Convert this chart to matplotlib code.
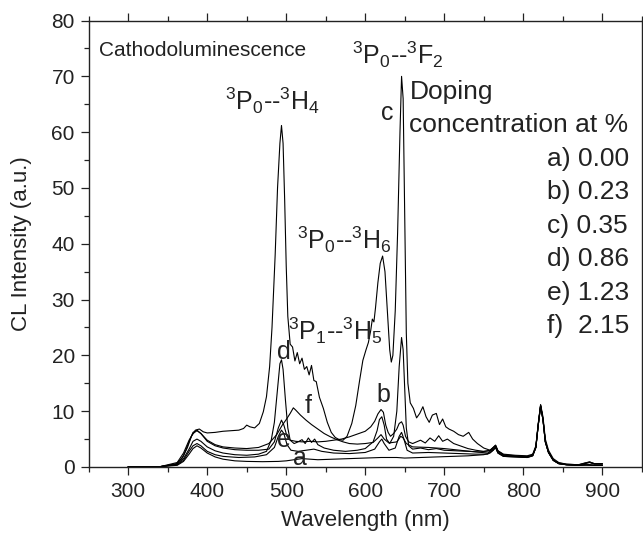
import matplotlib
matplotlib.use("Agg")
import matplotlib.pyplot as plt
from matplotlib.ticker import MultipleLocator

plt.rcParams['font.family'] = ['Liberation Sans', 'DejaVu Sans']
plt.rcParams['mathtext.fontset'] = 'custom'
plt.rcParams['mathtext.rm'] = 'Liberation Sans'
plt.rcParams['mathtext.it'] = 'Liberation Sans:italic'
plt.rcParams['mathtext.bf'] = 'Liberation Sans:bold'

# ---- data (wavelength nm, CL intensity a.u.) ----
wl_a = [300, 340, 362, 370, 377, 382, 387, 392, 400, 410, 420, 435, 450, 470, 490, 500, 510, 520, 530, 540,
        560, 580, 600, 620, 640, 650, 670, 690, 710, 730, 750, 758, 762, 765, 768, 775, 790, 805, 812, 816,
        819, 822, 825, 828, 832, 838, 845, 855, 870, 880, 890, 900]
int_a = [0, 0.05, 0.3, 1.0, 2.3, 3.3, 3.8, 3.4, 2.5, 1.8, 1.4, 1.1, 1.0, 0.95, 1.0, 1.1, 1.3, 1.5, 1.4, 1.3,
         1.4, 1.5, 1.6, 1.7, 1.7, 1.6, 1.7, 1.8, 1.9, 2.0, 2.2, 2.5, 3.0, 3.5, 2.5, 1.9, 1.8, 1.7, 2.0, 3.5,
         7.5, 11.0, 8.5, 4.5, 2.6, 1.2, 0.6, 0.4, 0.3, 0.3, 0.3, 0.3]

wl_b = [300, 340, 362, 370, 377, 382, 387, 392, 400, 410, 420, 435, 450, 465, 478, 485, 490, 494, 497, 501,
        505, 512, 520, 530, 540, 550, 560, 570, 580, 590, 600, 607, 612, 616, 620, 623, 626, 629, 632, 636,
        640, 643, 646, 648, 651, 655, 660, 670, 676, 682, 688, 693, 698, 704, 712, 720, 730, 740, 750, 758,
        762, 765, 768, 775, 790, 805, 812, 816, 819, 822, 825, 828, 832, 838, 845, 855, 870, 878, 884, 890, 900]
int_b = [0, 0.05, 0.6, 2.0, 4.5, 6.2, 6.6, 6.0, 4.6, 3.8, 3.4, 3.1, 3.0, 3.0, 3.2, 4.5, 7.0, 8.4, 7.5, 5.5,
         4.8, 4.6, 4.5, 4.6, 4.5, 4.6, 4.8, 5.0, 5.4, 5.9, 6.4, 7.2, 8.2, 9.5, 10.3, 9.8, 7.5, 6.2, 5.5, 6.0,
         6.8, 7.8, 8.1, 7.5, 5.5, 4.5, 4.2, 4.8, 4.3, 5.2, 4.6, 5.6, 4.6, 5.0, 4.2, 3.8, 3.3, 3.0, 2.8, 3.0,
         3.5, 3.9, 2.9, 2.2, 2.0, 1.9, 2.1, 3.6, 7.6, 11.0, 8.6, 4.6, 2.7, 1.3, 0.7, 0.5, 0.4, 0.7, 0.9, 0.6, 0.6]

wl_c = [300, 340, 360, 368, 375, 380, 385, 390, 395, 400, 410, 420, 430, 440, 446, 450, 454, 460, 466, 471,
        475, 479, 482, 486, 489, 492, 494, 496, 498, 500, 502, 505, 508, 511, 514, 517, 520, 523, 526, 529,
        532, 535, 538, 542, 547, 552, 557, 562, 567, 572, 577, 583, 588, 593, 597, 601, 604, 607, 609, 611,
        613, 616, 619, 622, 625, 628, 631, 633, 635, 638, 641, 644, 646, 648, 650, 652, 654, 657, 661, 665,
        669, 673, 677, 681, 685, 690, 694, 698, 702, 706, 712, 718, 724, 731, 736, 742, 750, 758, 762, 765,
        768, 775, 790, 805, 812, 816, 819, 822, 825, 828, 832, 838, 845, 855, 870, 878, 884, 890, 900]
int_c = [0, 0.05, 0.5, 1.5, 3.5, 5.5, 6.6, 6.8, 6.3, 6.1, 6.2, 6.4, 6.5, 6.6, 6.9, 7.5, 7.2, 7.0, 7.8, 9.9,
         12.6, 18.0, 25.0, 38.0, 50.0, 58.0, 61.2, 58.0, 48.0, 36.0, 27.0, 22.0, 21.5, 19.0, 20.5, 18.5, 19.5, 17.5, 18.0, 16.5,
         18.2, 15.5, 15.3, 12.5, 10.5, 8.0, 6.2, 5.3, 4.9, 4.8, 5.5, 7.8, 11.0, 15.6, 19.1, 21.0, 22.3, 24.5, 26.5, 26.0,
         28.5, 33.0, 36.5, 37.8, 35.0, 28.0, 21.0, 18.8, 20.0, 28.0, 42.0, 60.0, 70.0, 66.0, 45.0, 24.0, 15.0, 11.5, 10.5, 8.8,
         9.6, 10.8, 9.0, 8.0, 9.3, 9.6, 7.6, 8.6, 7.2, 6.8, 6.4, 5.8, 5.5, 6.2, 5.0, 4.2, 3.4, 3.0, 3.5, 3.9,
         2.9, 2.3, 2.1, 2.0, 2.3, 3.8, 7.8, 11.2, 9.0, 5.0, 3.0, 1.5, 0.8, 0.5, 0.4, 0.7, 0.9, 0.6, 0.6]

wl_d = [300, 340, 362, 370, 377, 382, 387, 392, 400, 410, 420, 435, 450, 465, 475, 481, 485, 489, 492, 494,
        496, 499, 502, 505, 510, 515, 520, 524, 528, 532, 536, 540, 548, 560, 575, 590, 600, 610, 615, 618,
        621, 624, 627, 631, 636, 640, 643, 646, 648, 650, 652, 655, 660, 670, 680, 690, 700, 715, 730, 745,
        758, 762, 765, 768, 775, 790, 805, 812, 816, 819, 822, 825, 828, 832, 838, 845, 855, 870, 878, 884, 890, 900]
int_d = [0, 0.05, 0.5, 1.5, 3.2, 4.6, 5.0, 4.6, 3.6, 2.9, 2.5, 2.2, 2.1, 2.3, 2.8, 4.8, 8.0, 14.0, 18.5, 19.2,
         17.5, 12.0, 7.0, 4.8, 4.2, 4.5, 4.9, 4.2, 5.2, 4.4, 5.0, 4.0, 3.4, 3.0, 2.8, 3.0, 3.3, 4.5, 6.5, 8.5,
         9.0, 7.5, 5.0, 4.2, 5.5, 10.0, 18.0, 23.2, 21.0, 14.0, 7.0, 3.8, 3.2, 3.4, 3.1, 3.3, 3.0, 2.9, 2.8, 2.7,
         2.9, 3.4, 3.8, 2.8, 2.1, 1.9, 1.8, 2.1, 3.5, 7.5, 10.8, 8.5, 4.5, 2.6, 1.2, 0.6, 0.4, 0.3, 0.6, 0.8, 0.5, 0.5]

wl_e = [300, 340, 362, 370, 377, 382, 387, 392, 400, 410, 420, 440, 460, 475, 485, 490, 494, 497, 501, 506,
        515, 525, 535, 545, 560, 580, 600, 612, 618, 621, 624, 630, 638, 643, 646, 649, 653, 660, 680, 700,
        720, 740, 755, 762, 765, 768, 775, 790, 805, 812, 816, 819, 822, 825, 828, 832, 838, 845, 855, 870, 880, 890, 900]
int_e = [0, 0.05, 0.4, 1.2, 2.8, 3.8, 4.2, 3.8, 2.8, 2.2, 1.9, 1.7, 1.8, 2.2, 3.5, 5.5, 6.6, 6.0, 4.0, 3.0,
         2.8, 3.0, 3.2, 2.8, 2.5, 2.4, 2.6, 3.2, 4.5, 5.0, 4.2, 3.0, 3.4, 5.5, 6.2, 5.0, 3.0, 2.5, 2.6, 2.5,
         2.4, 2.3, 2.3, 3.0, 3.5, 2.5, 1.9, 1.8, 1.7, 2.0, 3.5, 7.5, 11.0, 8.5, 4.5, 2.6, 1.2, 0.6, 0.4, 0.3, 0.4, 0.3, 0.3]

wl_f = [300, 340, 362, 370, 377, 382, 387, 392, 400, 410, 420, 435, 450, 465, 478, 488, 495, 500, 505, 509,
        512, 518, 525, 532, 540, 548, 556, 564, 572, 580, 590, 600, 610, 616, 620, 624, 630, 640, 645, 648,
        652, 660, 680, 700, 720, 740, 755, 762, 765, 768, 775, 790, 805, 812, 816, 819, 822, 825, 828, 832,
        838, 845, 855, 870, 880, 890, 900]
int_f = [0, 0.05, 0.8, 2.5, 4.8, 6.0, 6.5, 6.0, 4.8, 4.0, 3.6, 3.4, 3.3, 3.5, 4.2, 5.8, 7.5, 8.5, 9.6, 10.6,
         10.2, 9.3, 8.4, 7.6, 6.8, 6.0, 5.4, 4.9, 4.5, 4.2, 4.1, 4.2, 4.4, 5.2, 5.8, 5.0, 4.3, 4.5, 5.5, 5.2,
         4.2, 3.6, 3.5, 3.3, 3.0, 2.7, 2.5, 3.2, 3.6, 2.6, 2.0, 1.9, 1.8, 2.1, 3.5, 7.5, 11.0, 8.5, 4.5, 2.6,
         1.2, 0.6, 0.4, 0.3, 0.5, 0.3, 0.3]

curves = [(wl_a, int_a), (wl_b, int_b), (wl_c, int_c), (wl_d, int_d), (wl_e, int_e), (wl_f, int_f)]

legend_lines = ["a) 0.00", "b) 0.23", "c) 0.35", "d) 0.86", "e) 1.23", "f)  2.15"]

fig = plt.figure(figsize=(6.43, 5.34), dpi=100)
ax = fig.add_axes([0.138, 0.1255, 0.860, 0.836])

for wl, inten in curves:
    ax.plot(wl, inten, color='black', lw=0.8)

ax.set_xlim(250, 950)
ax.set_ylim(0, 80)
ax.xaxis.set_major_locator(MultipleLocator(100))
ax.xaxis.set_minor_locator(MultipleLocator(50))
ax.yaxis.set_major_locator(MultipleLocator(10))
ax.yaxis.set_minor_locator(MultipleLocator(5))
ax.set_xticks([300, 400, 500, 600, 700, 800, 900])
ax.tick_params(which='both', direction='out', top=True, right=True, width=0.9, labelsize=15,
               colors='#222222', labelcolor='#222222')
ax.tick_params(which='major', length=6, pad=4)
ax.tick_params(axis='x', which='major', pad=5)
ax.tick_params(which='minor', length=3.5)
for s in ax.spines.values():
    s.set_linewidth(1.0)
    s.set_color('#222222')

ax.set_xlabel('Wavelength (nm)', fontsize=16, color='#222222', labelpad=6)
ax.set_ylabel('CL Intensity (a.u.)', fontsize=16, color='#222222', labelpad=14)

tc = '#222222'
ax.text(263, 74.6, 'Cathodoluminescence', fontsize=15, ha='left', va='center', color=tc)
ax.text(482, 65.6, r'$^{3}$P$_{0}$--$^{3}$H$_{4}$', fontsize=18, ha='center', va='center', color=tc)
ax.text(641, 73.8, r'$^{3}$P$_{0}$--$^{3}$F$_{2}$', fontsize=18, ha='center', va='center', color=tc)
ax.text(574, 40.7, r'$^{3}$P$_{0}$--$^{3}$H$_{6}$', fontsize=18, ha='center', va='center', color=tc)
ax.text(562, 24.5, r'$^{3}$P$_{1}$--$^{3}$H$_{5}$', fontsize=18, ha='center', va='center', color=tc)

ax.text(628, 62.1, 'c', fontsize=18, ha='center', va='baseline', color=tc)
ax.text(497, 19.3, 'd', fontsize=18, ha='center', va='baseline', color=tc)
ax.text(527.5, 9.6, 'f', fontsize=18, ha='center', va='baseline', color=tc)
ax.text(496.5, 3.5, 'e', fontsize=18, ha='center', va='baseline', color=tc)
ax.text(517.5, 0.3, 'a', fontsize=18, ha='center', va='baseline', color=tc)
ax.text(623, 11.7, 'b', fontsize=18, ha='center', va='baseline', color=tc)

ax.text(656, 66.0, 'Doping', fontsize=19, ha='left', va='baseline', color=tc)
ax.text(656, 60.0, 'concentration at %', fontsize=19, ha='left', va='baseline', color=tc)
for i, s in enumerate(legend_lines):
    ax.text(830, 54.0 - 6.0 * i, s, fontsize=19, ha='left', va='baseline', color=tc)

fig.savefig('out.png', dpi=100)
